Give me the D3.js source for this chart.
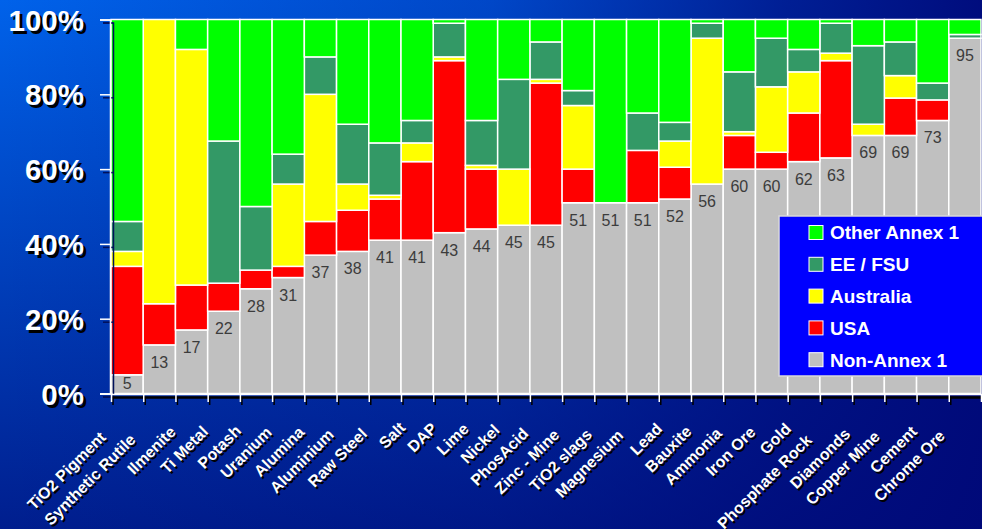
<!DOCTYPE html>
<html>
<head>
<meta charset="utf-8">
<script src="https://cdn.jsdelivr.net/npm/d3@7"></script>
<style>
  html, body { margin: 0; padding: 0; background: #0040c0; }
  svg { display: block; }
</style>
</head>
<body>
<svg id="chart" width="982" height="529"></svg>
<script>
// Production share by region, per commodity (percent of world output)
const categories = [
  "TiO2 Pigment", "Synthetic Rutile", "Ilmenite", "Ti Metal", "Potash", "Uranium",
  "Alumina", "Aluminium", "Raw Steel", "Salt", "DAP", "Lime", "Nickel", "PhosAcid",
  "Zinc - Mine", "TiO2 slags", "Magnesium", "Lead", "Bauxite", "Ammonia", "Iron Ore",
  "Gold", "Phosphate Rock", "Diamonds", "Copper Mine", "Cement", "Chrome Ore"
];
const nonAnnex1   = [5, 13, 17, 22, 28, 31, 37, 38, 41, 41, 43, 44, 45, 45, 51, 51, 51, 52, 56, 60, 60, 62, 63, 69, 69, 73, 95];
const usa         = [29, 11, 12, 7.5, 5, 3, 9, 11, 11, 21, 46, 16, 0, 38, 9, 0, 14, 8.5, 0, 9, 4.5, 13, 26, 0, 10, 5.5, 0];
const australia   = [4, 76, 63, 0, 0, 22, 34, 7, 1, 5, 1, 1, 15, 1, 17, 0, 0, 7, 39, 1, 17.5, 11, 2, 3, 6, 0, 0];
const eeFsu       = [8, 0, 0, 38, 17, 8, 10, 16, 14, 6, 9, 12, 24, 10, 4, 0, 10, 5, 4, 16, 13, 6, 8, 21, 9, 4.5, 1];
const otherAnnex1 = [54, 0, 8, 32.5, 50, 36, 10, 28, 33, 27, 1, 27, 16, 6, 19, 49, 25, 27.5, 1, 14, 5, 8, 1, 7, 6, 17, 4];

const seriesKeys   = ["nonAnnex1", "usa", "australia", "eeFsu", "otherAnnex1"];
const seriesLabels = ["Non-Annex 1", "USA", "Australia", "EE / FSU", "Other Annex 1"];
const seriesColors = ["#c0c0c0", "#ff0000", "#ffff00", "#339966", "#00ff00"];
const yTicks = [0, 20, 40, 60, 80, 100];

const rows = categories.map((c, i) => ({
  category: c,
  nonAnnex1: nonAnnex1[i], usa: usa[i], australia: australia[i],
  eeFsu: eeFsu[i], otherAnnex1: otherAnnex1[i]
}));

const svg = d3.select("#chart");
const W = 982, H = 529;
const FONT = "'Liberation Sans', Arial, Helvetica, sans-serif";

// ---- background: bright blue top-left fading to navy ----
const defs = svg.append("defs");
const vg = defs.append("linearGradient").attr("id", "bgV").attr("x1", 0).attr("y1", 0).attr("x2", 0).attr("y2", 1);
vg.append("stop").attr("offset", 0).attr("stop-color", "#0062ea");
vg.append("stop").attr("offset", 1).attr("stop-color", "#001e8e");
const hg = defs.append("linearGradient").attr("id", "bgH").attr("x1", 0).attr("y1", 0).attr("x2", 1).attr("y2", 0);
[[0, 0], [0.5, 0.3], [0.8, 0.75], [1, 0.95]].forEach(([o, a]) =>
  hg.append("stop").attr("offset", o).attr("stop-color", "#000878").attr("stop-opacity", a));
svg.append("rect").attr("width", W).attr("height", H).attr("fill", "url(#bgV)");
svg.append("rect").attr("width", W).attr("height", H).attr("fill", "url(#bgH)");

// ---- scales ----
const x = d3.scaleBand().domain(categories).range([111, 981]).padding(0);
const y = d3.scaleLinear().domain([0, 100]).range([393.5, 19.5]);
const edge = d3.scaleLinear().domain([0, categories.length]).range([111, 981]);

const stacked = d3.stack().keys(seriesKeys)(rows);

// ---- bars ----
const barG = svg.append("g");
stacked.forEach((layer, k) => {
  barG.append("g")
    .attr("fill", seriesColors[k])
    .selectAll("rect")
    .data(layer.filter(d => d[1] - d[0] > 0))
    .join("rect")
    .attr("x", d => x(d.data.category))
    .attr("width", x.bandwidth())
    .attr("y", d => y(d[1]))
    .attr("height", d => y(d[0]) - y(d[1]))
    .attr("stroke", "#ffffff")
    .attr("stroke-width", 1.5);
});

// ---- value labels on the Non-Annex 1 segment ----
svg.append("g")
  .selectAll("text")
  .data(rows)
  .join("text")
  .attr("x", d => x(d.category) + x.bandwidth() / 2)
  .attr("y", d => Math.min(y(d.nonAnnex1) + 23, 389))
  .attr("text-anchor", "middle")
  .attr("font-family", FONT)
  .attr("font-size", 16)
  .attr("fill", "#3c3c3c")
  .text(d => d.nonAnnex1);

// ---- y axis (shadow copy then white) ----
function drawYAxis(color, dx, dy) {
  const g = svg.append("g")
    .attr("transform", `translate(${110 + dx},${dy})`)
    .call(d3.axisLeft(y).tickValues(yTicks).tickSize(10).tickPadding(16).tickFormat(d => d + "%"));
  g.selectAll("path, line").attr("stroke", color).attr("stroke-width", 1.5);
  g.selectAll("text")
    .attr("fill", color)
    .attr("font-family", FONT)
    .attr("font-weight", "bold")
    .attr("font-size", 29.5)
    .attr("dy", "0.36em");
  return g;
}
const yShadow = drawYAxis("#000000", 3, 3);
yShadow.selectAll("path, line").attr("stroke", "#00105a").attr("stroke-width", 1.5);
drawYAxis("#ffffff", 0, 0);

// ---- x axis: ticks at category boundaries ----
function drawXAxis(color, dx, dy, width) {
  const g = svg.append("g")
    .attr("transform", `translate(${dx},${394 + dy})`)
    .call(d3.axisBottom(edge).tickValues(d3.range(categories.length + 1)).tickSize(8).tickSizeOuter(0).tickFormat(""));
  g.select("path").attr("stroke", color).attr("stroke-width", width);
  g.selectAll("line").attr("stroke", color).attr("stroke-width", 1.5);
  return g;
}
drawXAxis("#000000", 1.5, 3, 2.5);
drawXAxis("#ffffff", 0, 0, 1.5);
svg.append("line").attr("x1", 100).attr("x2", 111).attr("y1", 394).attr("y2", 394)
  .attr("stroke", "#ffffff").attr("stroke-width", 1.5);

// ---- category labels, rotated 45° ----
function drawCatLabels(color, ox, oy) {
  const g = svg.append("g").attr("transform", `translate(${ox},${oy})`);
  const t = g.selectAll("text")
    .data(categories)
    .join("text")
    .attr("transform", d => `translate(${x(d) + x.bandwidth() / 2 - 7},425) rotate(-45)`)
    .attr("text-anchor", "end")
    .attr("font-family", FONT)
    .attr("font-weight", "bold")
    .attr("font-size", 16)
    .attr("fill", color)
    .text(d => d);
  t.attr("x", function () { return -0.184 * this.getComputedTextLength(); });
}
drawCatLabels("#000000", 2, 2);
drawCatLabels("#ffffff", 0, 0);

// ---- legend ----
const lg = svg.append("g").attr("transform", "translate(779,216)");
lg.append("rect").attr("width", 215).attr("height", 160)
  .attr("fill", "#0000ff").attr("stroke", "#d8d8d8").attr("stroke-width", 1.5);
const legendOrder = [4, 3, 2, 1, 0];
const items = lg.selectAll("g.item")
  .data(legendOrder)
  .join("g")
  .attr("class", "item")
  .attr("transform", (k, i) => `translate(0,${16.5 + i * 31.8})`);
items.append("rect")
  .attr("x", 30).attr("y", -7).attr("width", 14).attr("height", 14)
  .attr("fill", k => seriesColors[k]).attr("stroke", "#ffffff").attr("stroke-width", 1);
items.append("text")
  .attr("x", 51).attr("y", 0).attr("dy", "0.36em")
  .attr("font-family", FONT).attr("font-weight", "bold").attr("font-size", 19)
  .attr("fill", "#ffffff")
  .text(k => seriesLabels[k]);
</script>
</body>
</html>
